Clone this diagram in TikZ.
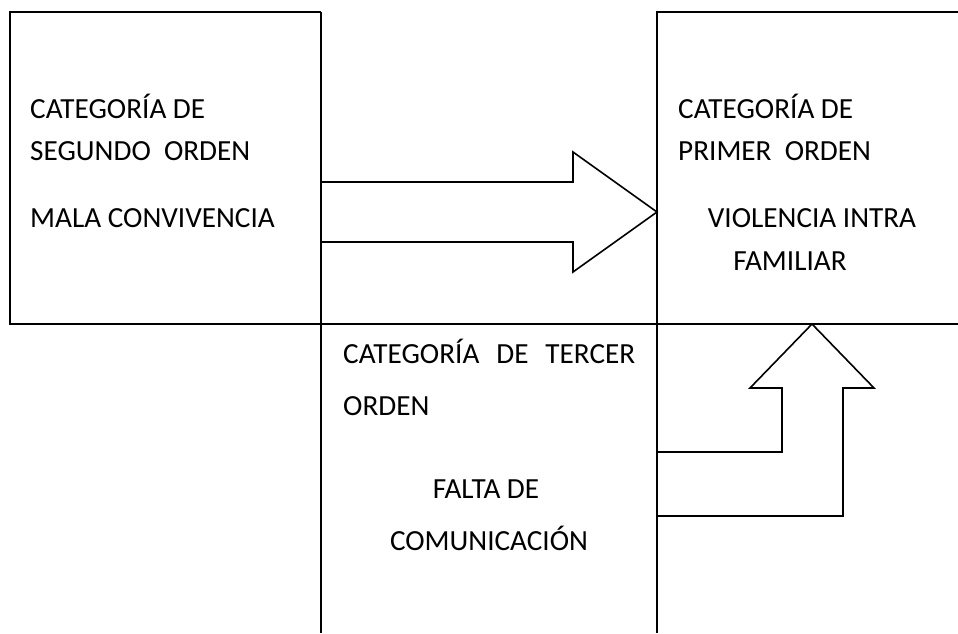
\documentclass[tikz,border=0pt]{standalone}
\usepackage{fontspec}
\setmainfont{Carlito}
\begin{document}
\begin{tikzpicture}[x=1pt,y=-1pt,
  ln/.style={line width=1.6pt,line join=miter},
  txt/.style={inner sep=0pt,font=\fontsize{29.2}{34}\selectfont},
  lt/.style={txt,anchor=base west},
  ct/.style={txt,anchor=base}]
\useasboundingbox (0,0) rectangle (958,633);
% frames
\draw[ln] (321,12) -- (10,12) -- (10,324) -- (958,324);
\draw[ln] (958,12) -- (657,12) -- (657,633);
\draw[ln] (321,12) -- (321,633);
% right arrow
\draw[ln] (321,182) -- (573,182) -- (573,152) -- (657,212) -- (573,272) -- (573,242) -- (321,242);
% bent up arrow
\draw[ln] (657,452) -- (782,452) -- (782,388) -- (750,388) -- (812,324) -- (874,388) -- (843,388) -- (843,516) -- (657,516);
% left box text
\node[lt] (l1) at (30,118) {CATEGORÍA DE};
\node[lt] (l2) at (30,160) {SEGUNDO\ \ ORDEN};
\node[lt] (l3) at (30,227) {MALA CONVIVENCIA};
% right box text
\node[lt] (r1) at (678,118) {CATEGORÍA DE};
\node[lt] (r2) at (678,160) {PRIMER\ \ ORDEN};
\node[ct] (r3) at (812,227) {VIOLENCIA INTRA};
\node[ct] (r4) at (790,270) {FAMILIAR};
% middle text
\node[lt] (m1) at (343,363) {\makebox[292pt][s]{CATEGORÍA\hfill DE\hfill TERCER}};
\node[lt] (m2) at (343,415) {ORDEN};
\node[ct] (m3) at (486,498) {FALTA DE};
\node[ct] (m4) at (489,550) {COMUNICACIÓN};
\end{tikzpicture}
\end{document}
